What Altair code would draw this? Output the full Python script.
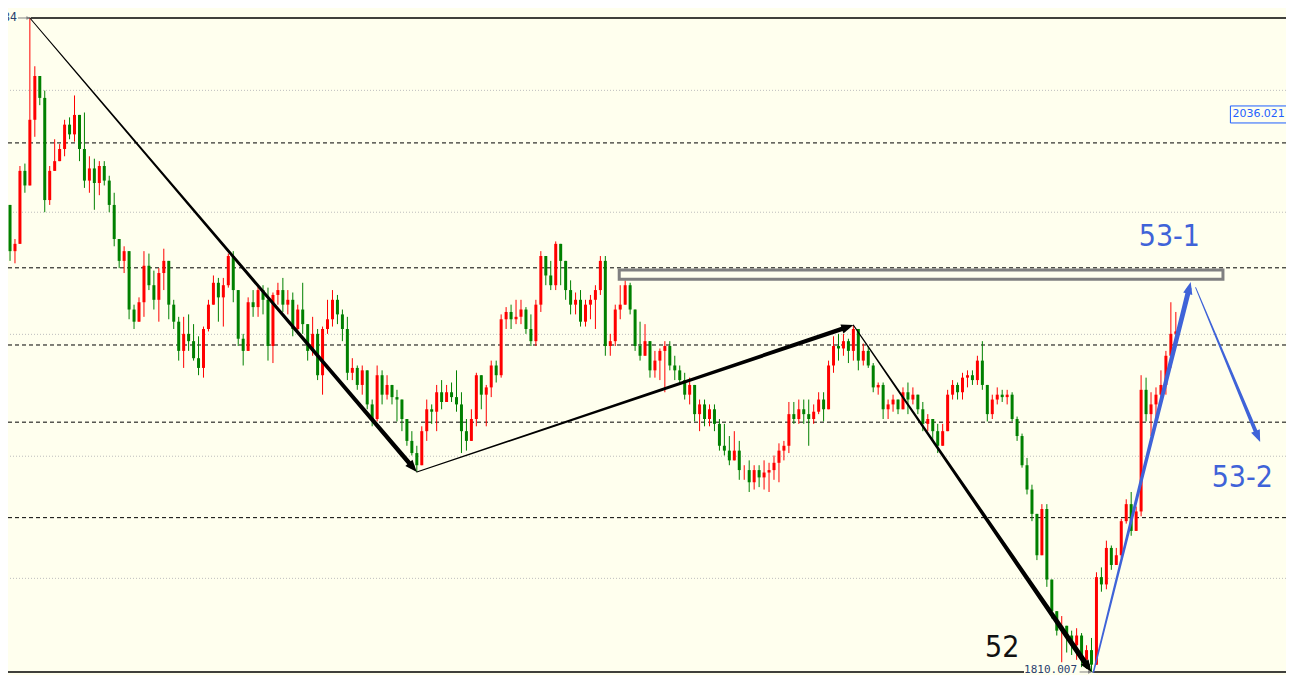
import math
import altair as alt
import pandas as pd

# ---------------- data (XAUUSD bars) ----------------
first_open = 1978
close = [
    2002, 1983, 1986, 2016, 2010, 2037, 2055, 2046, 2004, 2016,
    2020, 2025, 2035, 2031, 2039, 2025, 2012, 2017, 2011, 2018,
    2012, 2002, 1988, 1979, 1983, 1959, 1954, 1962, 1977, 1969,
    1963, 1974, 1979, 1961, 1954, 1942, 1949, 1946, 1939, 1935,
    1951, 1961, 1970, 1964, 1969, 1981, 1967, 1947, 1942, 1962,
    1960, 1967, 1963, 1944, 1965, 1967, 1961, 1963, 1951, 1959,
    1953, 1942, 1949, 1932, 1951, 1955, 1963, 1957, 1951, 1933,
    1935, 1928, 1934, 1920, 1914, 1932, 1924, 1928, 1923, 1922,
    1914, 1905, 1900, 1895, 1909, 1918, 1917, 1925, 1921, 1925,
    1923, 1920, 1909, 1905, 1914, 1932, 1924, 1927, 1936, 1932,
    1955, 1958, 1955, 1956, 1959, 1951, 1946, 1961, 1981, 1973,
    1969, 1986, 1979, 1967, 1961, 1963, 1954, 1961, 1963, 1967,
    1979, 1944, 1946, 1959, 1961, 1969, 1959, 1944, 1940, 1946,
    1934, 1938, 1942, 1944, 1936, 1934, 1930, 1924, 1928, 1916,
    1920, 1914, 1918, 1912, 1903, 1901, 1897, 1901, 1893, 1893,
    1888, 1893, 1890, 1892, 1893, 1896, 1901, 1903, 1916, 1914,
    1918, 1916, 1914, 1917, 1922, 1918, 1936, 1944, 1943, 1946,
    1942, 1951, 1938, 1942, 1936, 1927, 1928, 1918, 1920, 1922,
    1918, 1925, 1922, 1924, 1918, 1912, 1914, 1909, 1903, 1909,
    1924, 1928, 1925, 1931, 1932, 1930, 1938, 1928, 1916, 1922,
    1924, 1923, 1924, 1914, 1907, 1895, 1885, 1875, 1858, 1877,
    1848, 1835, 1827, 1829, 1825, 1821, 1825, 1815, 1819, 1813,
    1849, 1846, 1861, 1854, 1858, 1872, 1879, 1868, 1876, 1926,
    1916, 1920, 1924, 1928, 1940, 1949, 1950,
]
high = [
    2005, 1995, 1988, 2018, 2019, 2078.84, 2059, 2052, 2049, 2018,
    2029, 2027, 2037, 2038, 2047, 2038, 2040, 2022, 2021, 2020,
    2020, 2014, 2007, 1988, 1985, 1983, 1961, 1964, 1983, 1982,
    1975, 1976, 1984, 1977, 1963, 1956, 1956, 1957, 1953, 1948,
    1952, 1963, 1973, 1972, 1972, 1982, 1983, 1967, 1949, 1964,
    1967, 1969, 1969, 1968, 1966, 1970, 1972, 1967, 1966, 1961,
    1970, 1953, 1956, 1951, 1952, 1963, 1967, 1965, 1959, 1956,
    1939, 1936, 1936, 1931, 1922, 1936, 1934, 1932, 1928, 1926,
    1917, 1914, 1909, 1903, 1911, 1922, 1920, 1928, 1930, 1928,
    1929, 1934, 1925, 1914, 1918, 1933, 1928, 1928, 1938, 1938,
    1957, 1960, 1961, 1963, 1963, 1960, 1957, 1963, 1983, 1979,
    1979, 1987, 1981, 1977, 1971, 1966, 1967, 1963, 1965, 1969,
    1981, 1981, 1949, 1961, 1969, 1971, 1970, 1959, 1954, 1953,
    1946, 1942, 1943, 1946, 1946, 1940, 1936, 1933, 1931, 1928,
    1922, 1922, 1920, 1920, 1914, 1912, 1907, 1909, 1905, 1895,
    1897, 1895, 1895, 1897, 1896, 1899, 1904, 1905, 1921, 1921,
    1922, 1922, 1922, 1920, 1925, 1925, 1938, 1948, 1949, 1949,
    1947, 1952.6, 1949, 1945, 1944, 1937, 1929, 1929, 1922, 1924,
    1922, 1927, 1929, 1927, 1924, 1921, 1916, 1914, 1912, 1912,
    1926, 1930, 1929, 1933, 1934, 1934, 1940, 1946, 1928, 1924,
    1927, 1926, 1926, 1925, 1915, 1908, 1898, 1887, 1875, 1879,
    1879, 1848, 1835, 1833, 1829, 1827, 1828, 1826, 1821, 1824,
    1851, 1853, 1864, 1862, 1861, 1873, 1881, 1884, 1878, 1932,
    1931, 1925, 1927, 1934, 1942, 1962, 1958,
]
low = [
    1976, 1979, 1978, 1986, 2007, 2011, 2030, 2043, 1999, 2002,
    2016, 2020, 2022, 2029, 2028, 2020, 2009, 2007, 2000, 2006,
    2010, 1999, 1985, 1976, 1974, 1955, 1951, 1956, 1956, 1967,
    1959, 1954, 1967, 1955, 1951, 1938, 1935, 1942, 1938, 1932,
    1931, 1950, 1963, 1954, 1952, 1968, 1962, 1944, 1936, 1946,
    1956, 1956, 1957, 1938, 1937, 1961, 1958, 1957, 1948, 1949,
    1949, 1938, 1940, 1930, 1924, 1949, 1952, 1953, 1946, 1930,
    1930, 1926, 1924, 1918, 1911, 1913, 1920, 1922, 1920, 1913,
    1909, 1903, 1899, 1892.2, 1898, 1905, 1912, 1909, 1918, 1922,
    1921, 1917, 1900, 1901, 1907, 1911, 1918, 1911, 1923, 1929,
    1931, 1951, 1951, 1953, 1953, 1949, 1944, 1944, 1958, 1969,
    1967, 1967, 1969, 1963, 1957, 1957, 1952, 1952, 1955, 1951,
    1965, 1940, 1940, 1944, 1955, 1961, 1957, 1942, 1938, 1944,
    1931, 1931, 1930, 1925, 1934, 1930, 1928, 1922, 1920, 1913,
    1909, 1911, 1911, 1909, 1901, 1899, 1895, 1897, 1889, 1889,
    1884, 1885, 1886, 1885, 1884, 1889, 1888, 1897, 1900, 1912,
    1912, 1912, 1903, 1912, 1916, 1913, 1920, 1933, 1938, 1940,
    1937, 1938, 1934, 1936, 1935, 1925, 1924, 1914, 1914, 1917,
    1916, 1918, 1916, 1920, 1916, 1909, 1909, 1905, 1900, 1903,
    1909, 1922, 1922, 1922, 1927, 1928, 1928, 1926, 1913, 1914,
    1920, 1921, 1920, 1913, 1905, 1894, 1883, 1872, 1856, 1864,
    1845, 1832, 1825, 1814, 1818, 1817, 1815, 1812, 1815, 1810.007,
    1813, 1843, 1844, 1852, 1855, 1857, 1871, 1866, 1868, 1874,
    1913, 1907, 1912, 1920, 1924, 1935, 1944,
]

# swing points (bar index, price)
swing_bar = [5, 83, 171, 219]
swing_price = [2078.84, 1892.2, 1952.6, 1810.007]

# projected path 53-1 / 53-2 (bar index, price)
proj_bar = [219.4, 239, 240, 253]
proj_price = [1810.007, 1970.3, 1968.0, 1904.5]

# target zone of 53-1
zone_bar = [123.8, 245.5]
zone_price = [1971.5, 1975.3]

fib_ratio = [0.236, 0.382, 0.5, 0.618, 0.809]
grid_price = [2049.1, 1999.0, 1948.8, 1898.7, 1848.5]

wave_labels = ["53-1", "53-2", "52"]
wave_label_bar = [234.7, 249.4, 201]
wave_label_price = [1988.8, 1889.8, 1819.9]
wave_label_color = ["blue", "blue", "black"]

price_tag = 2036.021
hi_label = "2078.84"
lo_label = "1810.007"

# ---------------- styles / scales ----------------
W, H = 1278, 667
X_DOM = [1.6, 257.2]
Y_DOM = [1808.77, 2082.95]
PX_X = W / (X_DOM[1] - X_DOM[0])
PX_Y = H / (Y_DOM[1] - Y_DOM[0])
BG = "#FFFFEE"
UP, DOWN = "#FF0000", "#008000"
BLUE = "#3F63D8"
TAG_BLUE = "#1F5FFF"
NAVY = "#2A3F6E"
HEAD = "M0,0L0.7,1.8L-0.7,1.8Z"


def X(f):
    return alt.X(f, type="quantitative",
                 scale=alt.Scale(domain=X_DOM, nice=False, zero=False), axis=None)


def Y(f):
    return alt.Y(f, type="quantitative",
                 scale=alt.Scale(domain=Y_DOM, nice=False, zero=False), axis=None)


# candles
rows = []
prev = first_open
for i, (c, h, l) in enumerate(zip(close, high, low)):
    o = prev
    rows.append(dict(i=i, open=o, close=c, high=max(h, o, c), low=min(l, o, c),
                     dir="up" if c >= o else "down"))
    prev = c
candles = pd.DataFrame(rows)
HI = max(high)
LO = min(low)

col = alt.Color("dir:N", scale=alt.Scale(domain=["up", "down"], range=[UP, DOWN]), legend=None)
wicks = alt.Chart(candles).mark_rule(strokeWidth=1, clip=True).encode(
    x=X("i"), y=Y("low"), y2=alt.Y2("high"), color=col)
bodies = alt.Chart(candles).mark_bar(size=3, clip=True).encode(
    x=X("i"), y=Y("open"), y2=alt.Y2("close"), color=col)

# horizontal levels
grid = alt.Chart(pd.DataFrame({"p": grid_price})).mark_rule(
    color="#BDBDBD", strokeDash=[1, 2], strokeWidth=1).encode(y=Y("p"))
fib = alt.Chart(pd.DataFrame({"p": [LO + r * (HI - LO) for r in fib_ratio]})).mark_rule(
    color="black", strokeDash=[4, 3], strokeWidth=1).encode(y=Y("p"))

ext = pd.DataFrame([
    dict(x=swing_bar[0] + 0.2, x2=270, p=HI),
    dict(x=-5, x2=205.4, p=LO),
    dict(x=219.2, x2=270, p=LO),
])
extremes = alt.Chart(ext).mark_rule(color="black", strokeWidth=1.3, clip=True).encode(
    x=X("x"), x2=alt.X2("x2"), y=Y("p"))

conn = pd.DataFrame([
    dict(x=2.6, x2=4.7, p=HI),
    dict(x=216.6, x2=218.7, p=LO),
])
connectors = alt.Chart(conn).mark_rule(color="#808080", strokeWidth=1, clip=True).encode(
    x=X("x"), x2=alt.X2("x2"), y=Y("p"))
conn_heads = alt.Chart(pd.DataFrame([dict(x=5.2, p=HI), dict(x=219.2, p=LO)])).mark_point(
    shape=HEAD, filled=True, size=25, angle=90, color="#808080", opacity=1, clip=True).encode(
    x=X("x"), y=Y("p"))

# target zone box
zone = alt.Chart(pd.DataFrame([dict(x=zone_bar[0], x2=zone_bar[1],
                                    p=zone_price[0], p2=zone_price[1])])).mark_rect(
    fill=None, stroke="#808080", strokeWidth=3, clip=True).encode(
    x=X("x"), x2=alt.X2("x2"), y=Y("p"), y2=alt.Y2("p2"))

# arrows (tapered trails + heads)
arrow_defs = [
    ("a1", swing_bar[0], swing_price[0], swing_bar[1], swing_price[1], 1.0, 4.5, "black"),
    ("a2", swing_bar[1], swing_price[1], swing_bar[2], swing_price[2], 1.0, 4.5, "black"),
    ("a3", swing_bar[2], swing_price[2], swing_bar[3], swing_price[3], 1.0, 5.5, "black"),
    ("b1", proj_bar[0], proj_price[0], proj_bar[1], proj_price[1], 1.5, 5.0, BLUE),
    ("b2", proj_bar[2], proj_price[2], proj_bar[3], proj_price[3], 1.0, 4.0, BLUE),
]
HEAD_SIZE = 180
head_len = 1.8 * math.sqrt(HEAD_SIZE) / 2
trail_rows, head_rows = [], []
for name, x0, p0, x1, p1, w0, w1, c in arrow_defs:
    dx = (x1 - x0) * PX_X
    dy = -(p1 - p0) * PX_Y
    length = math.hypot(dx, dy)
    f = 1 - (head_len * 0.6) / length
    trail_rows.append(dict(seg=name, ord=0, x=x0, p=p0, w=w0, col=c))
    trail_rows.append(dict(seg=name, ord=1, x=x0 + (x1 - x0) * f, p=p0 + (p1 - p0) * f, w=w1, col=c))
    head_rows.append(dict(seg=name, x=x1, p=p1, ang=math.degrees(math.atan2(dx, -dy)) % 360, col=c))

trails = alt.Chart(pd.DataFrame(trail_rows)).mark_trail(clip=True).encode(
    x=X("x"), y=Y("p"), size=alt.Size("w:Q", scale=None, legend=None),
    color=alt.Color("col:N", scale=None), detail="seg:N", order=alt.Order("ord:Q"))
heads = alt.Chart(pd.DataFrame(head_rows)).mark_point(
    shape=HEAD, filled=True, size=HEAD_SIZE, opacity=1, clip=True).encode(
    x=X("x"), y=Y("p"), angle=alt.Angle("ang:Q", scale=None),
    color=alt.Color("col:N", scale=None))

# wave labels
lab = pd.DataFrame(dict(t=wave_labels, x=wave_label_bar, p=wave_label_price,
                        col=[BLUE if c == "blue" else "#111111" for c in wave_label_color]))
labels = alt.Chart(lab).mark_text(
    font="DejaVu Sans Condensed, Liberation Sans", fontSize=30, align="center",
    baseline="middle").encode(x=X("x"), y=Y("p"), text="t:N",
                               color=alt.Color("col:N", scale=None))

# price tag 2036.021
tag_box = alt.Chart(pd.DataFrame([dict(x=247, x2=258.4,
                                       p=price_tag - 0.8 / PX_Y,
                                       p2=price_tag + 16.2 / PX_Y)])).mark_rect(
    fill=BG, stroke=TAG_BLUE, strokeWidth=1, clip=True).encode(
    x=X("x"), x2=alt.X2("x2"), y=Y("p"), y2=alt.Y2("p2"))
tag_text = alt.Chart(pd.DataFrame([dict(x=247.4, p=price_tag + 7.7 / PX_Y,
                                        t=f"{price_tag:.3f}")])).mark_text(
    font="DejaVu Sans", fontSize=11, align="left", baseline="middle",
    color=TAG_BLUE, clip=True).encode(x=X("x"), y=Y("p"), text="t:N")

# extreme price labels
ext_lab = pd.DataFrame([
    dict(x=2.4, p=HI, t=hi_label),
    dict(x=205.4, p=LO + 2 / PX_Y, t=lo_label),
])
hi_text = alt.Chart(ext_lab.iloc[[0]]).mark_text(
    font="DejaVu Sans Mono", fontSize=11.5, align="right", baseline="middle",
    color=NAVY).encode(x=X("x"), y=Y("p"), text="t:N")
lo_bg = alt.Chart(ext_lab.iloc[[1]]).mark_rule(color=BG, strokeWidth=9).encode(
    x=X("x"), x2=alt.value(0), y=Y("p"))
lo_text = alt.Chart(ext_lab.iloc[[1]]).mark_text(
    font="DejaVu Sans Mono", fontSize=11, align="left", baseline="middle",
    color=NAVY).encode(x=X("x"), y=Y("p"), text="t:N")

chart = alt.layer(
    grid, fib, wicks, bodies, zone, extremes, connectors, conn_heads,
    trails, heads, labels, tag_box, tag_text, hi_text, lo_text,
).properties(
    width=W, height=H, background=BG, padding=0,
    autosize=alt.AutoSizeParams(type="none"),
).configure_view(stroke=None, fill=BG)

chart.save("out.html", embed_options={"renderer": "svg", "actions": False})
